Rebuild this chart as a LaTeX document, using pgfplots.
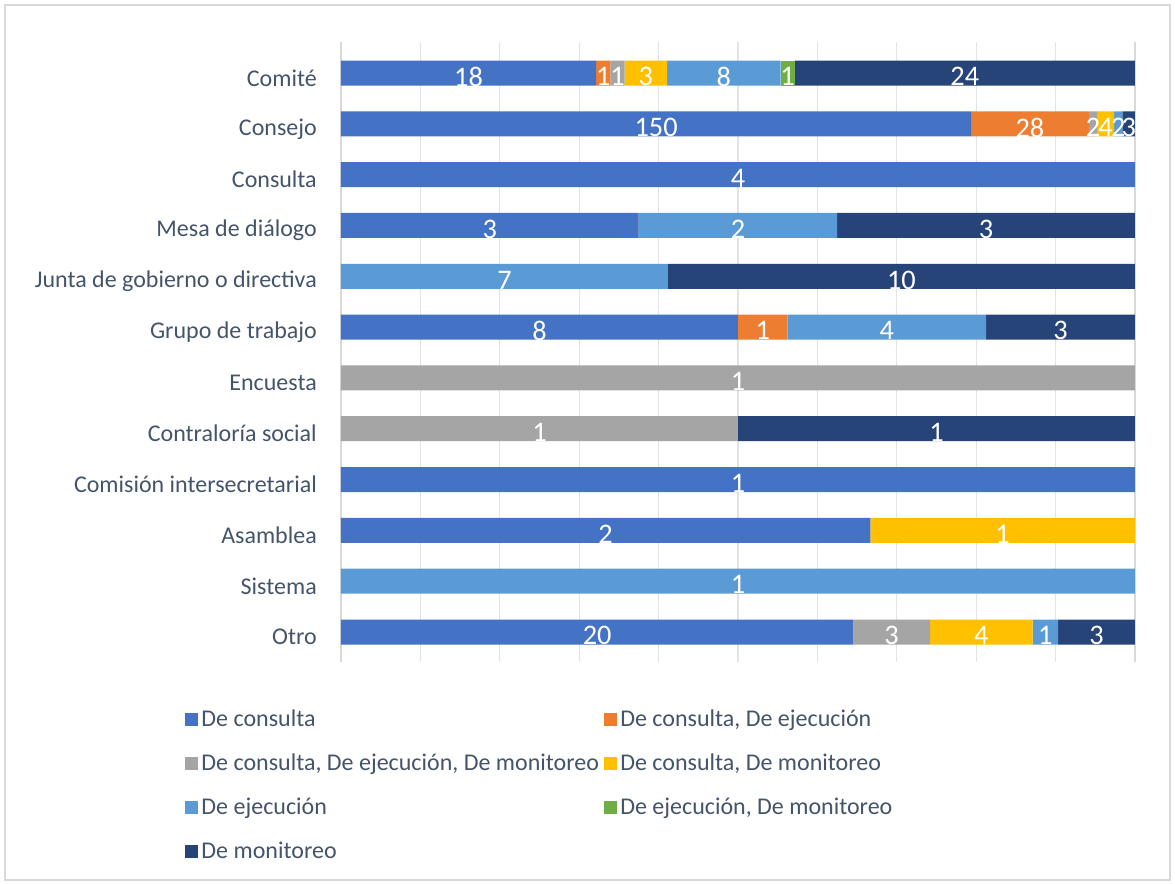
\documentclass[border=0pt]{standalone}
\usepackage{fontspec}
\setmainfont{Carlito}
\usepackage{pgfplots}
\usepackage{pgfplotstable}
\pgfplotsset{compat=1.18}
\definecolor{cConsulta}{HTML}{4472C4}
\definecolor{cConsEjec}{HTML}{ED7D31}
\definecolor{cTres}{HTML}{A5A5A5}
\definecolor{cConsMon}{HTML}{FFC000}
\definecolor{cEjec}{HTML}{5B9BD5}
\definecolor{cEjecMon}{HTML}{70AD47}
\definecolor{cMon}{HTML}{264478}
\definecolor{txt}{HTML}{44546A}

% counts per category (y=11 is Comité, y=0 is Otro)
\pgfplotstableread{
y  c1  c2 c3 c4 c5 c6 c7 tot
11 18  1  1  3  8  1  24 56
10 150 28 2  4  2  0  3  189
9  4   0  0  0  0  0  0  4
8  3   0  0  0  2  0  3  8
7  0   0  0  0  7  0  10 17
6  8   1  0  0  4  0  3  16
5  0   0  1  0  0  0  0  1
4  0   0  1  0  0  0  1  2
3  1   0  0  0  0  0  0  1
2  2   0  0  1  0  0  0  3
1  0   0  0  0  1  0  0  1
0  20  0  3  4  1  0  3  31
}\datos

\begin{document}
\begin{tikzpicture}
\pgfplotsset{base/.style={
  scale only axis, width=476.4pt, height=372pt,
  xmin=0, xmax=100, ymin=-0.59, ymax=11.61}}
\begin{axis}[base,
  xbar stacked, bar width=15pt,
  xtick={0,10,...,100}, xticklabels={},
  xmajorgrids, grid style={draw=gray!22, line width=0.8pt},
  ytick={0,...,11},
  yticklabels={Otro,Sistema,Asamblea,Comisión intersecretarial,Contraloría social,Encuesta,Grupo de trabajo,Junta de gobierno o directiva,Mesa de diálogo,Consulta,Consejo,Comité},
  yticklabel style={font=\fontsize{14.4}{17}\selectfont, text=txt, xshift=-11pt, yshift=-3pt},
  tick style={draw=none},
  separate axis lines,
  x axis line style={draw=none},
  y axis line style={draw=gray!30, line width=0.8pt},
  legend columns=2,
  legend cell align=left,
  legend image code/.code={\fill[#1] (0pt,-3.9pt) rectangle (7.8pt,3.9pt);},
  legend style={at={(-0.203,-0.066)}, anchor=north west, draw=none,
    font=\fontsize{14.4}{17}\selectfont, text=txt, row sep=11pt,
    /tikz/every even column/.append style={column sep=1pt}},
]
\addplot[fill=cConsulta, draw=none] table[x expr=\thisrow{c1}/\thisrow{tot}*100, y=y]{\datos};
\addplot[fill=cConsEjec, draw=none] table[x expr=\thisrow{c2}/\thisrow{tot}*100, y=y]{\datos};
\addplot[fill=cTres, draw=none] table[x expr=\thisrow{c3}/\thisrow{tot}*100, y=y]{\datos};
\addplot[fill=cConsMon, draw=none] table[x expr=\thisrow{c4}/\thisrow{tot}*100, y=y]{\datos};
\addplot[fill=cEjec, draw=none] table[x expr=\thisrow{c5}/\thisrow{tot}*100, y=y]{\datos};
\addplot[fill=cEjecMon, draw=none] table[x expr=\thisrow{c6}/\thisrow{tot}*100, y=y]{\datos};
\addplot[fill=cMon, draw=none] table[x expr=\thisrow{c7}/\thisrow{tot}*100, y=y]{\datos};
\legend{De consulta, {De consulta, De ejecución}, {De consulta, De ejecución, De monitoreo}, {De consulta, De monitoreo}, De ejecución, {De ejecución, De monitoreo}, De monitoreo}
\end{axis}
% value labels centred on each segment
\begin{axis}[base, hide axis,
  point meta=explicit,
  nodes near coords={\pgfmathfloatifflags{\pgfplotspointmeta}{0}{}{\pgfmathprintnumber{\pgfplotspointmeta}}},
  nodes near coords align=center,
  every node near coord/.append style={text=white, font=\fontsize{17}{19}\selectfont, inner sep=0pt, anchor=center, yshift=-2.2pt},
  /pgf/number format/assume math mode=true,
]
\addplot[draw=none, mark=none] table[x expr=(\thisrow{c1}/2)/\thisrow{tot}*100, y=y, meta=c1]{\datos};
\addplot[draw=none, mark=none] table[x expr=(\thisrow{c1}+\thisrow{c2}/2)/\thisrow{tot}*100, y=y, meta=c2]{\datos};
\addplot[draw=none, mark=none] table[x expr=(\thisrow{c1}+\thisrow{c2}+\thisrow{c3}/2)/\thisrow{tot}*100, y=y, meta=c3]{\datos};
\addplot[draw=none, mark=none] table[x expr=(\thisrow{c1}+\thisrow{c2}+\thisrow{c3}+\thisrow{c4}/2)/\thisrow{tot}*100, y=y, meta=c4]{\datos};
\addplot[draw=none, mark=none] table[x expr=(\thisrow{c1}+\thisrow{c2}+\thisrow{c3}+\thisrow{c4}+\thisrow{c5}/2)/\thisrow{tot}*100, y=y, meta=c5]{\datos};
\addplot[draw=none, mark=none] table[x expr=(\thisrow{c1}+\thisrow{c2}+\thisrow{c3}+\thisrow{c4}+\thisrow{c5}+\thisrow{c6}/2)/\thisrow{tot}*100, y=y, meta=c6]{\datos};
\addplot[draw=none, mark=none] table[x expr=(\thisrow{tot}-\thisrow{c7}/2)/\thisrow{tot}*100, y=y, meta=c7]{\datos};
\end{axis}
\draw[gray!30, line width=0.8pt] (-201.6pt,-130.8pt) rectangle (497.4pt,394.2pt);
\pgfresetboundingbox
\useasboundingbox (-204.6pt,-133.2pt) rectangle (500.4pt,397.2pt);
\end{tikzpicture}
\end{document}
